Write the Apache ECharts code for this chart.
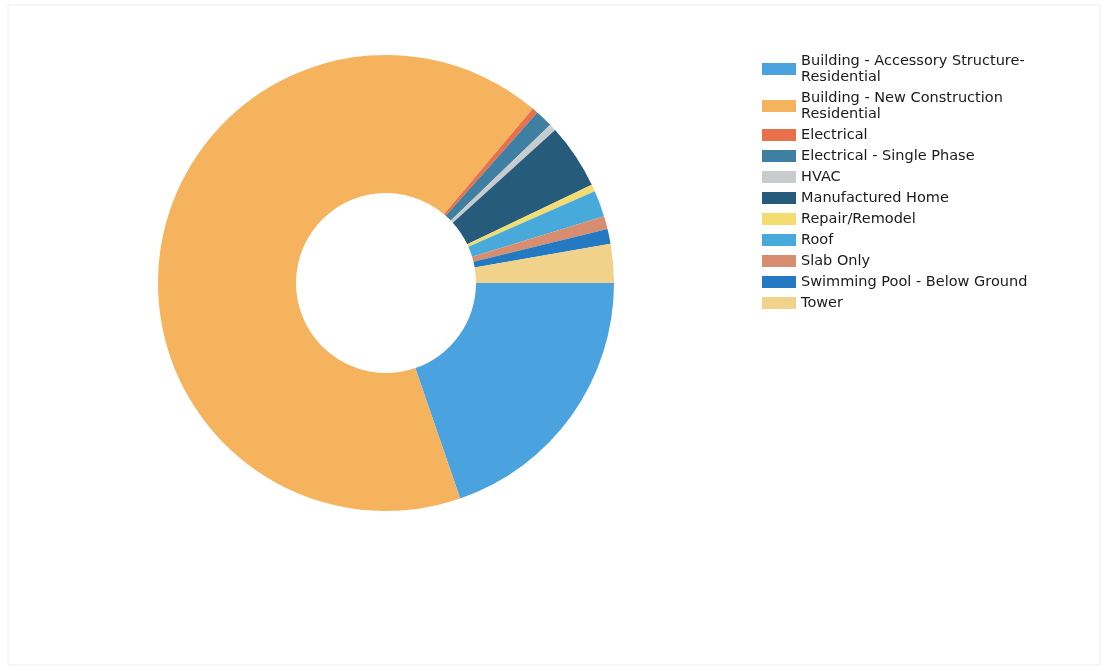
<!DOCTYPE html>
<html>
<head>
<meta charset="utf-8">
<script src="https://cdn.jsdelivr.net/npm/echarts@6/dist/echarts.min.js"></script>
<style>
  html, body { margin: 0; padding: 0; background: #fff; }
  #chart { width: 1105px; height: 670px; }
</style>
</head>
<body>
<div id="chart"></div>
<script>
// 类别
var categories = [
    'Building - Accessory Structure-\nResidential',
    'Building - New Construction\nResidential',
    'Electrical',
    'Electrical - Single Phase',
    'HVAC',
    'Manufactured Home',
    'Repair/Remodel',
    'Roof',
    'Slab Only',
    'Swimming Pool - Below Ground',
    'Tower'
];
// 数值
var values = [71, 239, 1.5, 4.5, 1.8, 16.6, 1.8, 6.7, 3.3, 3.8, 9.9];
// 颜色
var colors = ['#4aa2df', '#f5b35e', '#e8714b', '#3f7fa1', '#c9cccd', '#275b7c',
    '#f3dc70', '#47aadb', '#d98d70', '#2479c3', '#f1d28b'];

var myChart = echarts.init(document.getElementById('chart'));

var pieData = categories.map(function (name, i) {
    return { name: name, value: values[i], itemStyle: { color: colors[i] } };
});

var option = {
    backgroundColor: '#fff',
    animation: false,
    graphic: [{
        type: 'rect',
        shape: { x: 8, y: 5, width: 1092, height: 660 },
        style: { fill: 'none', stroke: '#eeeeee', lineWidth: 1 },
        silent: true
    }],
    legend: {
        orient: 'vertical',
        left: 757,
        top: 48,
        itemWidth: 34,
        itemHeight: 12,
        itemGap: 5,
        icon: 'rect',
        textStyle: {
            fontFamily: 'DejaVu Sans, sans-serif',
            fontSize: 14.5,
            color: '#1a1a1a',
            lineHeight: 16
        },
        data: categories
    },
    series: [
        {
            type: 'pie',
            center: [386, 283],
            radius: [90, 228],
            startAngle: 0,
            clockwise: true,
            label: { show: false },
            labelLine: { show: false },
            itemStyle: { borderWidth: 0 },
            emphasis: { disabled: true },
            data: pieData
        }
    ]
};

myChart.setOption(option);
</script>
</body>
</html>
